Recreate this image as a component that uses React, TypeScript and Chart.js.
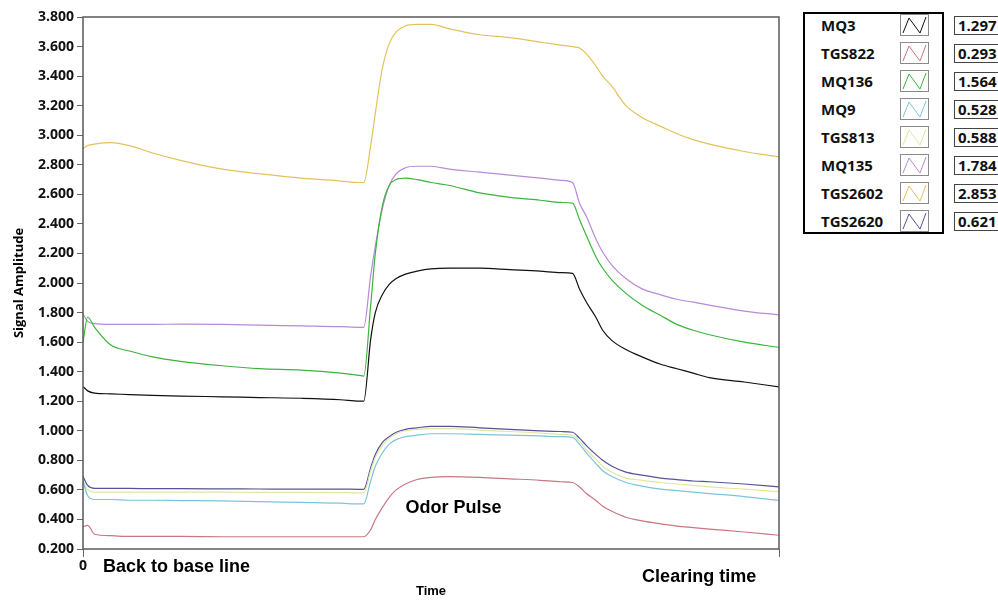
import { useEffect, useRef } from "react"
import { Chart, registerables } from "chart.js"

Chart.register(...registerables)

// time axis (s), unlabeled except for 0
const timeSec = [0, 2, 5, 12, 20, 30, 42, 60, 76, 94, 111, 119, 121, 124, 126, 129, 132, 135, 139, 144, 150, 158, 171, 184, 197, 206, 211, 214, 217, 221, 224, 228, 234, 241, 249, 256, 263, 270, 285, 300]

const sensorNames = ["MQ3", "TGS822", "MQ136", "MQ9", "TGS813", "MQ135", "TGS2602", "TGS2620"]
const sensorColors = ["#111111", "#c87882", "#3cb43c", "#7cc4dc", "#e2e69e", "#b98ad6", "#e3c25c", "#545496"]

const mq3 = [1.30, 1.27, 1.255, 1.25, 1.245, 1.24, 1.235, 1.23, 1.225, 1.22, 1.21, 1.20, 1.20, 1.62, 1.80, 1.92, 1.99, 2.03, 2.06, 2.08, 2.095, 2.10, 2.10, 2.09, 2.08, 2.07, 2.065, 1.96, 1.87, 1.77, 1.68, 1.61, 1.55, 1.50, 1.45, 1.42, 1.39, 1.36, 1.33, 1.297]
const tgs822 = [0.35, 0.36, 0.30, 0.29, 0.285, 0.285, 0.285, 0.283, 0.283, 0.283, 0.283, 0.283, 0.283, 0.33, 0.40, 0.48, 0.55, 0.60, 0.64, 0.67, 0.685, 0.69, 0.685, 0.675, 0.665, 0.655, 0.65, 0.62, 0.575, 0.53, 0.49, 0.455, 0.415, 0.39, 0.37, 0.355, 0.345, 0.335, 0.315, 0.293]
const mq136 = [1.60, 1.77, 1.70, 1.58, 1.54, 1.50, 1.47, 1.44, 1.42, 1.41, 1.39, 1.375, 1.37, 1.85, 2.20, 2.52, 2.66, 2.70, 2.71, 2.70, 2.68, 2.66, 2.61, 2.58, 2.56, 2.545, 2.54, 2.43, 2.32, 2.18, 2.10, 2.02, 1.93, 1.85, 1.78, 1.72, 1.68, 1.65, 1.60, 1.564]
const mq9 = [0.66, 0.56, 0.535, 0.535, 0.53, 0.53, 0.528, 0.525, 0.52, 0.515, 0.51, 0.505, 0.505, 0.66, 0.76, 0.85, 0.91, 0.94, 0.96, 0.97, 0.98, 0.98, 0.975, 0.97, 0.965, 0.96, 0.955, 0.91, 0.85, 0.78, 0.73, 0.69, 0.65, 0.625, 0.605, 0.595, 0.585, 0.575, 0.555, 0.528]
const tgs813 = [0.66, 0.60, 0.585, 0.585, 0.585, 0.585, 0.585, 0.585, 0.583, 0.583, 0.582, 0.58, 0.58, 0.73, 0.82, 0.90, 0.95, 0.98, 1.00, 1.01, 1.015, 1.015, 1.005, 0.995, 0.985, 0.975, 0.97, 0.93, 0.87, 0.81, 0.76, 0.72, 0.68, 0.665, 0.65, 0.64, 0.63, 0.62, 0.605, 0.588]
const mq135 = [1.79, 1.74, 1.725, 1.72, 1.72, 1.72, 1.722, 1.72, 1.715, 1.71, 1.705, 1.70, 1.70, 2.05, 2.25, 2.50, 2.66, 2.74, 2.78, 2.79, 2.79, 2.77, 2.75, 2.73, 2.71, 2.695, 2.68, 2.54, 2.45, 2.30, 2.21, 2.12, 2.03, 1.96, 1.92, 1.89, 1.87, 1.85, 1.81, 1.784]
const tgs2602 = [2.91, 2.93, 2.94, 2.95, 2.93, 2.88, 2.83, 2.77, 2.74, 2.71, 2.69, 2.68, 2.68, 2.93, 3.15, 3.45, 3.62, 3.70, 3.74, 3.75, 3.75, 3.72, 3.68, 3.66, 3.63, 3.61, 3.60, 3.59, 3.55, 3.47, 3.40, 3.33, 3.20, 3.12, 3.06, 3.01, 2.97, 2.94, 2.89, 2.853]
const tgs2620 = [0.69, 0.63, 0.61, 0.61, 0.61, 0.608, 0.608, 0.607, 0.606, 0.605, 0.605, 0.604, 0.604, 0.75, 0.84, 0.92, 0.96, 0.99, 1.01, 1.02, 1.03, 1.03, 1.02, 1.01, 1.00, 0.995, 0.99, 0.95, 0.90, 0.84, 0.80, 0.76, 0.72, 0.70, 0.68, 0.67, 0.66, 0.655, 0.64, 0.621]

const sensorValues = [mq3, tgs822, mq136, mq9, tgs813, mq135, tgs2602, tgs2620]

const yMin = 0.2
const yMax = 3.8
const yStep = 0.2

const tickFont = "'Open Sans', 'DejaVu Sans', sans-serif"
const noteFont = "'Liberation Sans', Arial, sans-serif"

// frame round the plot plus the text notes
const notesPlugin = {
  id: "frameAndNotes",
  afterDraw(chart: any) {
    const { ctx, chartArea: a, scales } = chart
    ctx.save()
    ctx.strokeStyle = "#5a5a5a"
    ctx.lineWidth = 1.5
    ctx.strokeRect(a.left, a.top, a.right - a.left, a.bottom - a.top)

    ctx.fillStyle = "#000"
    ctx.textBaseline = "middle"
    ctx.textAlign = "left"
    ctx.font = `bold 18px ${noteFont}`
    ctx.fillText("Odor Pulse", scales.x.getPixelForValue(139), scales.y.getPixelForValue(0.478))
    ctx.fillText("Back to base line", scales.x.getPixelForValue(8.6), a.bottom + 18)
    ctx.fillText("Clearing time", scales.x.getPixelForValue(241), a.bottom + 28)
    ctx.restore()
  },
}

function SensorChart() {
  const chartRef = useRef<HTMLCanvasElement>(null)
  const chartInstance = useRef<Chart | null>(null)

  useEffect(() => {
    if (!chartRef.current) return
    if (chartInstance.current) chartInstance.current.destroy()

    const ctx = chartRef.current.getContext("2d")
    if (!ctx) return

    chartInstance.current = new Chart(ctx, {
      type: "line",
      data: {
        datasets: sensorNames.map((name, i) => ({
          label: name,
          data: timeSec.map((t, k) => ({ x: t, y: sensorValues[i][k] })),
          borderColor: sensorColors[i],
          borderWidth: 1.2,
          pointRadius: 0,
          cubicInterpolationMode: "monotone" as const,
          fill: false,
        })),
      },
      options: {
        animation: false,
        responsive: true,
        maintainAspectRatio: false,
        layout: { padding: { top: 17, right: 11, bottom: 0, left: 0 } },
        plugins: {
          legend: { display: false },
          tooltip: { enabled: false },
        },
        scales: {
          x: {
            type: "linear",
            min: 0,
            max: 300,
            afterBuildTicks: (scale: any) => {
              scale.ticks = [{ value: 0 }, { value: 300 }]
            },
            afterFit: (scale: any) => {
              scale.height = 52
            },
            ticks: {
              callback: (v: any) => (Number(v) === 0 ? "0" : ""),
              font: { family: tickFont, size: 14, weight: "bold" },
              color: "#111",
              padding: 1,
              maxRotation: 0,
            },
            grid: { drawOnChartArea: false, drawTicks: true, tickLength: 8, tickColor: "#666" },
            border: { display: false },
            title: {
              display: true,
              text: "Time",
              font: { family: noteFont, size: 13, weight: "bold" },
              color: "#000",
              padding: { top: 0, bottom: 2 },
            },
          },
          y: {
            min: yMin,
            max: yMax,
            afterFit: (scale: any) => {
              scale.width = 83
            },
            ticks: {
              stepSize: yStep,
              callback: (v: any) => Number(v).toFixed(3),
              font: { family: tickFont, size: 14, weight: "bold" },
              color: "#111",
              padding: 3,
            },
            grid: { drawOnChartArea: false, drawTicks: true, tickLength: 6, tickColor: "#666" },
            border: { display: false },
            title: {
              display: true,
              text: "Signal Amplitude",
              font: { family: tickFont, size: 13, weight: "bold" },
              color: "#000",
              padding: { top: 11, bottom: 0 },
            },
          },
        },
      },
      plugins: [notesPlugin],
    })

    return () => {
      if (chartInstance.current) {
        chartInstance.current.destroy()
        chartInstance.current = null
      }
    }
  }, [])

  return (
    <div style={{ position: "absolute", left: 0, top: 0, width: 790, height: 601 }}>
      <canvas ref={chartRef} />
    </div>
  )
}

function Zigzag({ color }: { color: string }) {
  return (
    <svg width="27" height="20" style={{ display: "block" }}>
      <polyline points="2,18 8,3 19,18 25,2" fill="none" stroke={color} strokeWidth="1" />
    </svg>
  )
}

function SensorLegend() {
  return (
    <>
      <div
        style={{
          position: "absolute",
          left: 803,
          top: 12,
          width: 141,
          height: 222,
          border: "2px solid #000",
          boxSizing: "border-box",
        }}
      />
      {sensorNames.map((name, i) => {
        const cy = 25 + i * 28
        const last = sensorValues[i][sensorValues[i].length - 1]
        return (
          <div key={name}>
            <div
              style={{
                position: "absolute",
                left: 821,
                top: cy - 10,
                height: 20,
                lineHeight: "20px",
                fontSize: 15,
                fontWeight: "bold",
                color: "#111",
              }}
            >
              {name}
            </div>
            <div
              style={{
                position: "absolute",
                left: 900,
                top: cy - 11,
                width: 29,
                height: 22,
                border: "1px solid #8a8a8a",
                boxSizing: "border-box",
                background: "#fff",
              }}
            >
              <Zigzag color={sensorColors[i]} />
            </div>
            <div
              style={{
                position: "absolute",
                left: 954,
                top: cy - 9,
                width: 50,
                height: 19,
                border: "1px solid #444",
                boxSizing: "border-box",
                paddingLeft: 3,
                lineHeight: "17px",
                fontSize: 15,
                fontWeight: "bold",
                color: "#111",
              }}
            >
              {last.toFixed(3)}
            </div>
          </div>
        )
      })}
    </>
  )
}

export default function App() {
  return (
    <div
      style={{
        position: "absolute",
        left: 0,
        top: 0,
        width: 998,
        height: 601,
        overflow: "hidden",
        background: "#fff",
        fontFamily: tickFont,
      }}
    >
      <SensorChart />
      <SensorLegend />
    </div>
  )
}
